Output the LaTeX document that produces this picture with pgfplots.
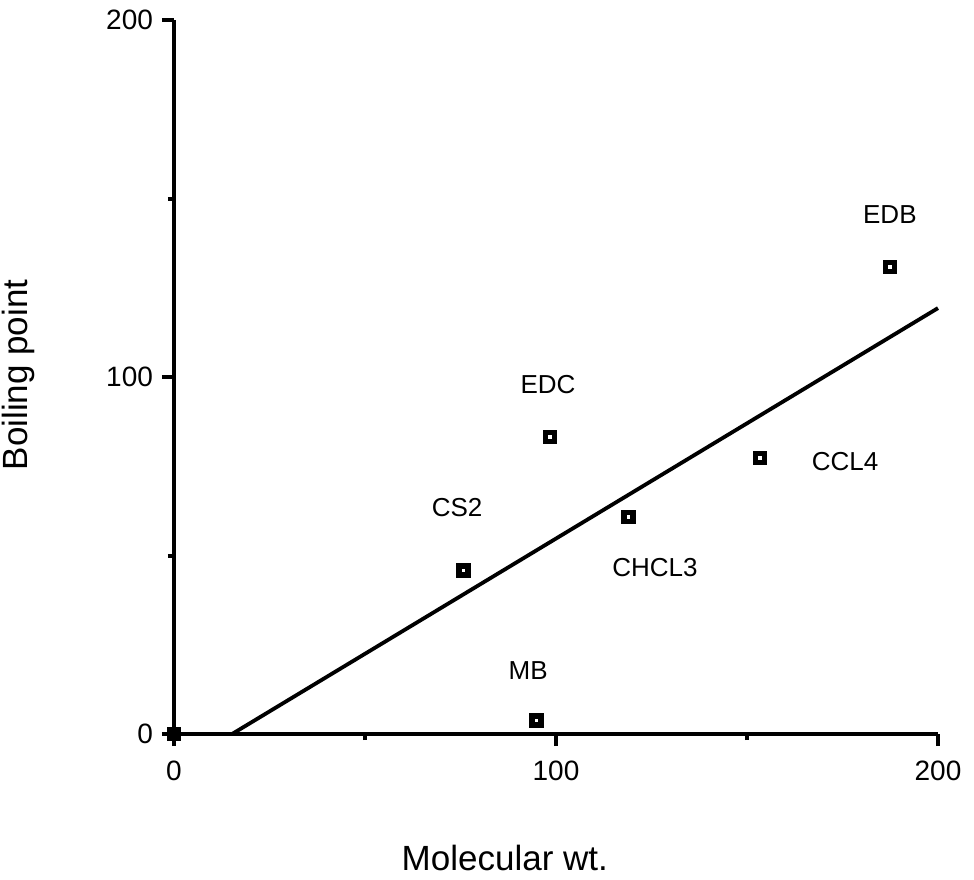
\documentclass[border=0pt]{standalone}
\usepackage{pgfplots}
\pgfplotsset{compat=1.18}
\usepackage{fontspec}
\setmainfont{Liberation Sans}

\begin{document}
\begin{tikzpicture}
% fixed canvas around the axis box
\path[use as bounding box] (-87pt,-72.5pt) rectangle (400pt,367pt);
\begin{axis}[
  at={(0,0)}, anchor=south west,
  scale only axis,
  width=382pt, height=357pt,
  xmin=0, xmax=200, ymin=0, ymax=200,
  axis x line*=bottom, axis y line*=left,
  axis line style={line width=1.7pt},
  xtick={0,100,200}, ytick={0,100,200},
  minor xtick={50,150}, minor ytick={50,150},
  tick align=outside,
  major tick length=6pt, minor tick length=3pt,
  every tick/.style={black, line width=2pt},
  tick label style={font=\fontsize{14}{16}\selectfont},
  /pgf/number format/assume math mode=true,
  xticklabel style={yshift=-4pt},
  yticklabel style={xshift=-1pt},
  xlabel={Molecular wt.}, ylabel={Boiling point},
  label style={font=\fontsize{17.5}{20}\selectfont},
  xlabel style={at={(axis description cs:0.433,0)}, anchor=center, yshift=-62pt},
  ylabel style={at={(axis description cs:0,0.503)}, anchor=center, yshift=78pt},
  clip=false,
]
% least-squares fit line
\addplot[black, line width=1.9pt] coordinates {(15.2,0) (200,119.3)};
% compounds
\addplot[only marks, mark=square, mark size=2.25pt,
  mark options={line width=2.8pt, black}] coordinates {
  (0,0)
  (94.9,3.8)
  (75.8,45.8)
  (98.4,83.2)
  (119.0,60.8)
  (153.4,77.3)
  (187.4,130.8)
};
\begin{scope}[every node/.style={font=\fontsize{13}{16}\selectfont}]
\node at (axis cs:187.4,145.4) {EDB};
\node at (axis cs:97.9,98.0) {EDC};
\node at (axis cs:74.1,63.3) {CS2};
\node at (axis cs:175.7,76.2) {CCL4};
\node at (axis cs:125.9,46.5) {CHCL3};
\node at (axis cs:92.7,17.9) {MB};
\end{scope}
\end{axis}
\end{tikzpicture}
\end{document}
